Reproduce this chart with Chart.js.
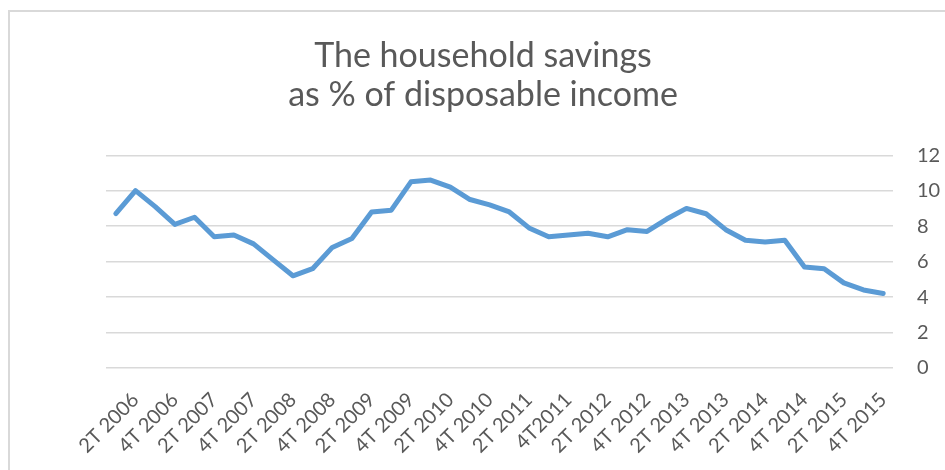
<!DOCTYPE html>
<html>
<head>
<meta charset="utf-8">
<script src="https://cdn.jsdelivr.net/npm/chart.js@4/dist/chart.umd.min.js"></script>
<style>
  html, body { margin: 0; padding: 0; background: #ffffff; overflow: hidden; }
  #wrap { position: relative; width: 945px; height: 470px; }
  #frame { position: absolute; left: 8px; top: 10px; width: 1000px; height: 600px; border: 2px solid #d9d9d9; box-sizing: border-box; }
  #c { position: absolute; left: 0; top: 0; }
</style>
</head>
<body>
<div id="wrap">
  <div id="frame"></div>
  <canvas id="c" width="945" height="470"></canvas>
</div>
<script>
const titleLines = ["The household savings", "as % of disposable income"];

const quarters = [
  "1T 2006", "2T 2006", "3T 2006", "4T 2006",
  "1T 2007", "2T 2007", "3T 2007", "4T 2007",
  "1T 2008", "2T 2008", "3T 2008", "4T 2008",
  "1T 2009", "2T 2009", "3T 2009", "4T 2009",
  "1T 2010", "2T 2010", "3T 2010", "4T 2010",
  "1T 2011", "2T 2011", "3T 2011", "4T2011",
  "1T 2012", "2T 2012", "3T 2012", "4T 2012",
  "1T 2013", "2T 2013", "3T 2013", "4T 2013",
  "1T 2014", "2T 2014", "3T 2014", "4T 2014",
  "1T 2015", "2T 2015", "3T 2015", "4T 2015"
];

const savingsRate = [
  8.7, 10.0, 9.1, 8.1,
  8.5, 7.4, 7.5, 7.0,
  6.1, 5.2, 5.6, 6.8,
  7.3, 8.8, 8.9, 10.5,
  10.6, 10.2, 9.5, 9.2,
  8.8, 7.9, 7.4, 7.5,
  7.6, 7.4, 7.8, 7.7,
  8.4, 9.0, 8.7, 7.8,
  7.2, 7.1, 7.2, 5.7,
  5.6, 4.8, 4.4, 4.2
];

const yTicks = [0, 2, 4, 6, 8, 10, 12];

const textColor = "#595959";
const fontFamily = "Lato, 'Open Sans', sans-serif";

new Chart(document.getElementById("c"), {
  type: "line",
  data: {
    labels: quarters,
    datasets: [{
      label: "Savings",
      data: savingsRate,
      borderColor: "#5b9bd5",
      backgroundColor: "#5b9bd5",
      borderWidth: 5,
      pointRadius: 0,
      pointHoverRadius: 0,
      tension: 0,
      fill: false,
      borderJoinStyle: "round",
      borderCapStyle: "round"
    }]
  },
  options: {
    responsive: false,
    animation: false,
    events: [],
    layout: { padding: { left: 21, right: 0, top: 0, bottom: 0 } },
    plugins: {
      legend: { display: false },
      tooltip: { enabled: false },
      title: {
        display: true,
        text: titleLines,
        color: textColor,
        font: { family: fontFamily, size: 34, weight: "normal", lineHeight: 1.15 },
        padding: { top: 36, bottom: 41 }
      }
    },
    scales: {
      x: {
        type: "category",
        offset: true,
        grid: { display: false, drawTicks: false },
        border: { display: false },
        ticks: {
          autoSkip: false,
          maxRotation: 45,
          minRotation: 45,
          padding: 20,
          color: textColor,
          font: { family: fontFamily, size: 20 },
          callback: function (value, index) {
            return index % 2 === 1 ? quarters[index] : "";
          }
        },
        afterFit: function (scale) {
          scale.height = 102;
          scale.paddingLeft = 106;
        }
      },
      y: {
        position: "right",
        min: 0,
        max: 12,
        afterBuildTicks: function (scale) {
          scale.ticks = yTicks.map(function (v) { return { value: v }; });
        },
        grid: { color: "#d9d9d9", lineWidth: 1.4, drawTicks: false },
        border: { display: false },
        ticks: {
          padding: 24,
          color: textColor,
          font: { family: fontFamily, size: 20 }
        },
        afterFit: function (scale) { scale.width = 52; }
      }
    }
  }
});
</script>
</body>
</html>
